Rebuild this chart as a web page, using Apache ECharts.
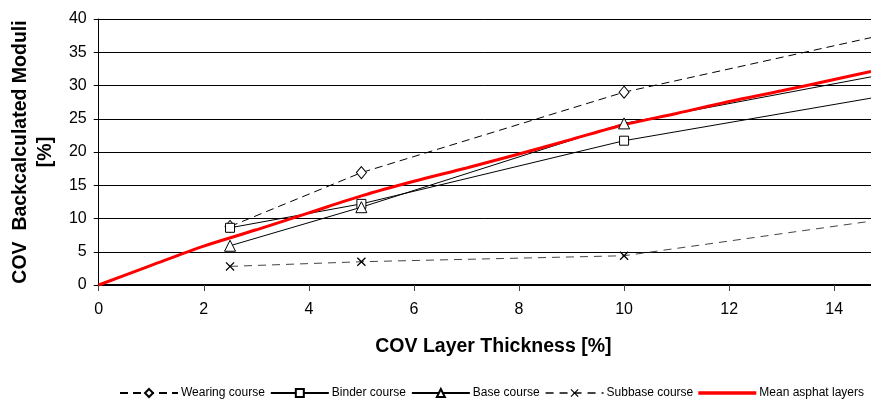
<!DOCTYPE html>
<html>
<head>
<meta charset="utf-8">
<script src="https://cdn.jsdelivr.net/npm/echarts@6/dist/echarts.min.js"></script>
<style>html,body{margin:0;padding:0;background:#fff}#c{width:871px;height:400px}</style>
</head>
<body>
<div id="c"></div>
<script>
// ---- data ----
const layerX   = [2.5, 5, 10, 14.7];
const wearing  = [8.8, 16.9, 29.0, 37.2];
const binder   = [8.6, 12.2, 21.7, 28.1];
const base     = [5.9, 11.7, 24.3, 31.3];
const subbase  = [2.8, 3.5, 4.4, 9.6];
const meanX    = [0, 1, 2, 3, 4, 5, 6, 7, 8, 9, 10, 11, 12, 13, 14, 14.7];
const meanY    = [0, 2.95, 5.85, 8.3, 10.85, 13.4, 15.6, 17.6, 19.7, 21.9, 24.1, 25.8, 27.6, 29.2, 30.9, 32.1];
const seriesNames = ['Wearing course', 'Binder course', 'Base course', 'Subbase course', 'Mean asphat layers'];
const xTicks = [0, 2, 4, 6, 8, 10, 12, 14];
const yTicks = [0, 5, 10, 15, 20, 25, 30, 35, 40];

const FONT = 'Liberation Sans, Arial, sans-serif';
const markedCount = 3; // markers only on measured points
function pts(xs, ys) {
  return xs.map((x, i) => i < markedCount ? [x, ys[i]] : { value: [x, ys[i]], symbol: 'none' });
}
const xSym = 'path://M0,1L1,0L5,4L9,0L10,1L6,5L10,9L9,10L5,6L1,10L0,9L4,5Z';
// thick bar icon for the mean line (tiny corner dots keep the bar thin inside the icon box)
const barIcon = 'path://M0,3.2H58V6.8H0Z M0,0H0.01V0.01H0Z M0,10H0.01V9.99H0Z';

const hollow = { color: '#fff', borderColor: '#000', borderWidth: 1 };

const chart = echarts.init(document.getElementById('c'), null, { renderer: 'canvas' });
chart.setOption({
  animation: false,
  backgroundColor: '#fff',
  grid: { left: 98, right: 0, top: 19, bottom: 115, containLabel: false },
  legend: {
    data: seriesNames.map((n, i) => i === 4 ? { name: n, icon: barIcon } : { name: n }),
    left: 114, top: 382,
    itemWidth: 58, itemHeight: 10, itemGap: 5,
    textStyle: { fontFamily: FONT, fontSize: 12, color: '#000', padding: [0, 0, 0, -2] }
  },
  xAxis: {
    type: 'value', min: 0, max: 14.7, interval: 2,
    name: 'COV Layer Thickness [%]', nameLocation: 'middle', nameGap: 52,
    nameTextStyle: { fontFamily: FONT, fontSize: 19.5, fontWeight: 'bold', color: '#000', padding: [0, 0, 0, 17] },
    axisLine: { lineStyle: { color: '#000', width: 2 } },
    axisTick: { show: true, length: 6, inside: false, lineStyle: { color: '#444', width: 1 } },
    axisLabel: { fontFamily: FONT, fontSize: 16, color: '#000', margin: 17, showMaxLabel: false,
      formatter: v => xTicks.includes(v) ? String(v) : '' },
    splitLine: { show: false }
  },
  yAxis: {
    type: 'value', min: 0, max: 40, interval: 5,
    name: 'COV  Backcalculated Moduli\n[%]', nameLocation: 'middle', nameGap: 35, nameRotate: 90,
    nameTextStyle: { fontFamily: FONT, fontSize: 19.5, fontWeight: 'bold', color: '#000', lineHeight: 25, align: 'center' },
    axisLine: { show: true, lineStyle: { color: '#000', width: 1 } },
    axisTick: { show: true, length: 5, lineStyle: { color: '#000' } },
    axisLabel: { fontFamily: FONT, fontSize: 16, color: '#000', margin: 12,
      formatter: v => yTicks.includes(v) ? String(v) : '' },
    splitLine: { show: true, lineStyle: { color: '#000', width: 1 } }
  },
  series: [
    { name: seriesNames[0], type: 'line', data: pts(layerX, wearing),
      symbol: 'diamond', symbolSize: [10, 12], itemStyle: hollow,
      lineStyle: { color: '#000', width: 1, type: [8, 5] }, color: '#000' },
    { name: seriesNames[1], type: 'line', data: pts(layerX, binder),
      symbol: 'rect', symbolSize: 9, itemStyle: hollow,
      lineStyle: { color: '#000', width: 1 }, color: '#000' },
    { name: seriesNames[2], type: 'line', data: pts(layerX, base),
      symbol: 'triangle', symbolSize: 11, itemStyle: hollow,
      lineStyle: { color: '#000', width: 1 }, color: '#000' },
    { name: seriesNames[3], type: 'line', data: pts(layerX, subbase),
      symbol: xSym, symbolSize: 9, itemStyle: { color: '#000', borderWidth: 0 },
      lineStyle: { color: '#444', width: 1, type: [8, 6] }, color: '#000' },
    { name: seriesNames[4], type: 'line', data: meanX.map((x, i) => [x, meanY[i]]),
      symbol: 'none', smooth: 0.3,
      lineStyle: { color: '#ff0000', width: 3 }, itemStyle: { color: '#ff0000' }, color: '#ff0000' }
  ]
});
</script>
</body>
</html>
